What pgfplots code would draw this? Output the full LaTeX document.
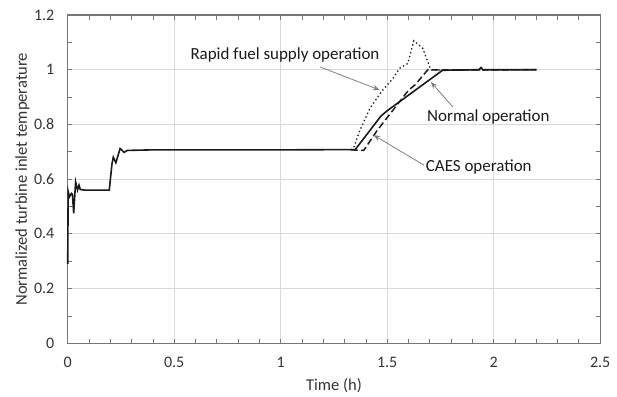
\documentclass[border=0pt]{standalone}
\usepackage{pgfplots}
\pgfplotsset{compat=1.18}
\usepackage{fontspec}
\setmainfont{Carlito}
\usetikzlibrary{arrows.meta}
\definecolor{axgray}{HTML}{767676}
\definecolor{gridgray}{HTML}{D9D9D9}
\definecolor{txtgray}{HTML}{333333}
\definecolor{linec}{HTML}{1A1A1A}
\begin{document}
\begin{tikzpicture}
\begin{axis}[
  scale only axis,
  width=399pt, height=246pt,
  xmin=0, xmax=2.5, ymin=0, ymax=1.2,
  xtick distance=0.5, ytick distance=0.2,
  minor x tick num=4, minor y tick num=1,
  tick align=inside,
  major tick length=3.5pt, minor tick length=3.5pt,
  every tick/.style={axgray, line width=0.6pt},
  axis line style={axgray, line width=0.9pt},
  grid=major,
  major grid style={gridgray, line width=0.6pt},
  tick label style={font=\fontsize{12}{14}\selectfont, text=txtgray},
  /pgf/number format/assume math mode=true,
  xticklabel style={yshift=-7pt},
  yticklabel style={xshift=-6.5pt},
  xlabel={Time (h)},
  ylabel={Normalized turbine inlet temperature},
  every axis x label/.style={at={(axis description cs:0.5,0)}, yshift=-31.5pt, anchor=center, font=\fontsize{12.4}{14}\selectfont, text=txtgray},
  every axis y label/.style={at={(axis description cs:0,0.5)}, xshift=-34pt, rotate=90, anchor=center, font=\fontsize{12.4}{14}\selectfont, text=txtgray},
  clip=false,
]
\path (axis cs:-0.318,-0.178) rectangle (axis cs:2.579,1.2548);
% Normal operation
\addplot[linec, line width=1.2pt] coordinates {
(0,0.29) (0.002,0.555) (0.008,0.535) (0.017,0.548) (0.022,0.545) (0.028,0.475)
(0.037,0.59) (0.046,0.56) (0.053,0.578) (0.059,0.562) (0.08,0.56) (0.195,0.56)
(0.208,0.657) (0.214,0.68) (0.226,0.66) (0.246,0.712) (0.265,0.698) (0.28,0.705)
(0.4,0.707) (1.0,0.707) (1.35,0.708) (1.47,0.83) (1.5,0.85) (1.76,0.998) (1.93,1.0)
(1.94,1.008) (1.95,1.0) (2.2,1.0)
};
% CAES operation
\addplot[linec, line width=1.1pt, dash pattern=on 5pt off 2.5pt] coordinates {
(1.33,0.707) (1.39,0.705) (1.45,0.775) (1.5,0.825) (1.6,0.925) (1.63,0.944)
(1.69,0.999) (2.2,1.0)
};
% Rapid fuel supply operation
\addplot[linec, line width=1.0pt, dotted] coordinates {
(1.33,0.707) (1.341,0.712) (1.372,0.779) (1.419,0.859) (1.473,0.92) (1.527,0.968)
(1.558,1.005) (1.597,1.023) (1.625,1.106) (1.667,1.078) (1.705,0.999) (2.2,1.0)
};
% annotations
\node[font=\fontsize{12.7}{14}\selectfont, text=linec] at (axis cs:1.02,1.052) {Rapid fuel supply operation};
\draw[gray, line width=0.6pt, -{Stealth[length=5pt,width=4pt]}] (axis cs:1.185,1.010) -- (axis cs:1.464,0.926);
\node[font=\fontsize{12.7}{14}\selectfont, text=linec] at (axis cs:1.975,0.827) {Normal operation};
\draw[gray, line width=0.6pt, -{Stealth[length=5pt,width=4pt]}] (axis cs:1.808,0.864) -- (axis cs:1.705,0.955);
\node[font=\fontsize{12.7}{14}\selectfont, text=linec] at (axis cs:1.93,0.644) {CAES operation};
\draw[gray, line width=0.6pt, -{Stealth[length=5pt,width=4pt]}] (axis cs:1.673,0.651) -- (axis cs:1.436,0.761);
\end{axis}
\end{tikzpicture}
\end{document}
